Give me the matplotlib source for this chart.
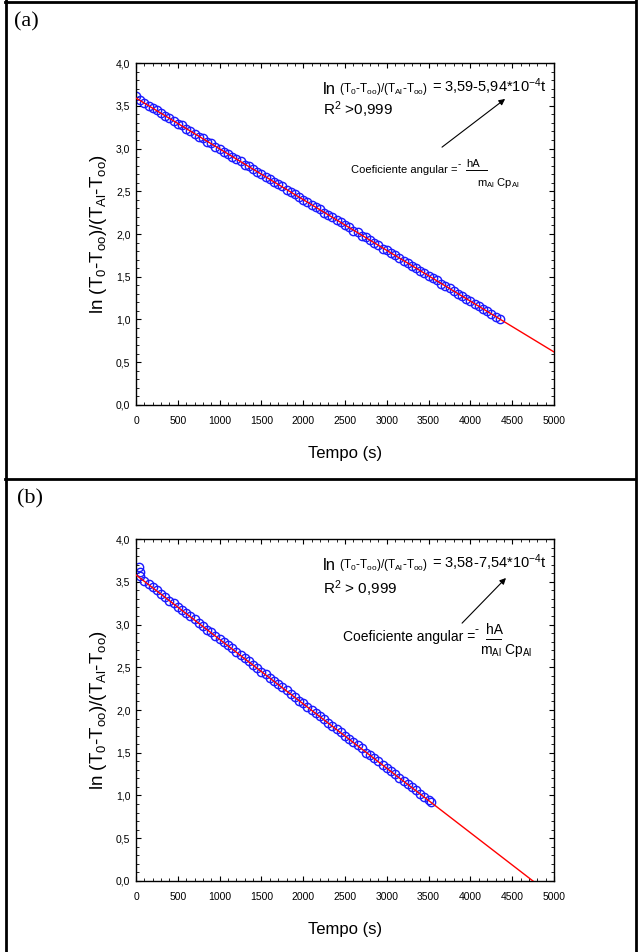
import numpy as np
import matplotlib

matplotlib.use("Agg")
import matplotlib.pyplot as plt
from matplotlib.lines import Line2D
from matplotlib.ticker import FuncFormatter, MultipleLocator

plt.rcParams["font.family"] = ["Liberation Sans", "DejaVu Sans"]
plt.rcParams["mathtext.default"] = "regular"

# panel (a): measured ln ratio vs time
T_A = np.arange(0, 4351, 50)
Y_A = [3.61, 3.57, 3.53, 3.50, 3.47, 3.45, 3.41, 3.38, 3.36, 3.32,
       3.29, 3.27, 3.23, 3.21, 3.17, 3.14, 3.12, 3.08, 3.06, 3.02,
       3.00, 2.96, 2.94, 2.90, 2.88, 2.85, 2.81, 2.79, 2.76, 2.73,
       2.70, 2.67, 2.64, 2.61, 2.58, 2.56, 2.52, 2.49, 2.47, 2.43,
       2.40, 2.38, 2.34, 2.31, 2.29, 2.25, 2.22, 2.20, 2.16, 2.14,
       2.10, 2.08, 2.04, 2.02, 1.98, 1.96, 1.93, 1.89, 1.87, 1.83,
       1.81, 1.78, 1.75, 1.72, 1.69, 1.66, 1.63, 1.60, 1.57, 1.54,
       1.51, 1.48, 1.46, 1.42, 1.39, 1.37, 1.33, 1.30, 1.28, 1.24,
       1.22, 1.18, 1.16, 1.12, 1.10, 1.07, 1.03, 1.00]
FIT_A = (3.59, -5.94e-4)

# panel (b)
T_B = [40, 45] + list(range(50, 3501, 50)) + [3530]
Y_B = [3.67, 3.62,
       3.57, 3.51, 3.47, 3.44, 3.40, 3.36, 3.32, 3.28, 3.25, 3.21,
       3.17, 3.13, 3.10, 3.06, 3.02, 2.98, 2.94, 2.91, 2.87, 2.83,
       2.79, 2.76, 2.72, 2.68, 2.64, 2.61, 2.57, 2.53, 2.49, 2.45,
       2.42, 2.38, 2.34, 2.30, 2.27, 2.23, 2.19, 2.15, 2.11, 2.08,
       2.03, 2.00, 1.96, 1.93, 1.89, 1.85, 1.81, 1.78, 1.74, 1.70,
       1.66, 1.63, 1.59, 1.55, 1.50, 1.47, 1.44, 1.40, 1.36, 1.32,
       1.29, 1.25, 1.21, 1.17, 1.14, 1.10, 1.06, 1.02, 0.98, 0.95,
       0.92]
FIT_B = (3.58, -7.54e-4)

X_TICKS = np.arange(0, 5001, 500)
Y_TICKS = np.arange(0, 4.01, 0.5)

YLABEL = "ln (T$_0$-T$_{oo}$)/(T$_{Al}$-T$_{oo}$)"
SMALL = " (T$_0$-T$_{oo}$)/(T$_{Al}$-T$_{oo}$)"

fig = plt.figure(figsize=(6.38, 9.52), dpi=100)


def panel(rect, t, y, fit, eq_rhs, r2, coef_fs, coef_xy, frac_xy, bar, arrow):
    ax = fig.add_axes(rect)
    ax.plot(t, y, "o", ms=6, mfc="none", mec="#1a1aff", mew=1.0, zorder=2)
    tf = np.array([0, 5000])
    ax.plot(tf, fit[0] + fit[1] * tf, color="red", lw=1.0, zorder=3)
    ax.set_xlim(0, 5000)
    ax.set_ylim(0, 4.0)
    ax.set_xticks(X_TICKS)
    ax.set_yticks(Y_TICKS)
    ax.xaxis.set_minor_locator(MultipleLocator(100))
    ax.yaxis.set_minor_locator(MultipleLocator(0.1))
    ax.yaxis.set_major_formatter(FuncFormatter(lambda v, p: f"{v:.1f}".replace(".", ",")))
    ax.tick_params(which="both", direction="in", top=True, right=True,
                   labelsize=7.5, colors="black")
    ax.tick_params(axis="x", pad=8)
    ax.tick_params(axis="y", pad=4)
    ax.tick_params(which="major", length=3.5, width=0.8)
    ax.tick_params(which="minor", length=2, width=0.6)
    for s in ax.spines.values():
        s.set_linewidth(1.0)
    ax.set_xlabel("Tempo (s)", fontsize=12, labelpad=14)
    ax.set_ylabel(YLABEL, fontsize=13.5, labelpad=5)

    # fitted equation
    t1 = ax.text(0.447, 0.90, "ln", fontsize=12, transform=ax.transAxes, va="bottom")
    t2 = ax.annotate(SMALL, xy=(1, 0), xycoords=t1, fontsize=8.5, va="bottom")
    ax.annotate(eq_rhs, xy=(1, 0), xycoords=t2, fontsize=10.5, va="bottom")
    ax.text(0.447, r2[1], r2[0], fontsize=11, transform=ax.transAxes, va="bottom")
    ax.annotate("", xy=arrow[1], xytext=arrow[0], xycoords="axes fraction",
                arrowprops=dict(arrowstyle="-|>", color="black", lw=0.8,
                                mutation_scale=9, shrinkA=0, shrinkB=0))

    # slope coefficient note
    c = ax.text(coef_xy[0], coef_xy[1], "Coeficiente angular =", fontsize=coef_fs,
                transform=ax.transAxes, ha="right", va="center")
    ax.annotate("- ", xy=(1, 0.6), xycoords=c, fontsize=coef_fs - 1, va="bottom")
    ax.text(frac_xy[0], frac_xy[1], "hA", fontsize=coef_fs,
            transform=ax.transAxes, va="bottom")
    ax.text(frac_xy[2], frac_xy[3], "m$_{Al}$ Cp$_{Al}$", fontsize=coef_fs,
            transform=ax.transAxes, va="center")
    ax.add_line(Line2D([bar[0], bar[1]], [bar[2], bar[2]], color="black", lw=0.7,
                       transform=ax.transAxes, clip_on=False))
    return ax


panel([0.2132, 0.5746, 0.6552, 0.3592], T_A, Y_A, FIT_A,
      " = 3,59-5,94*10$^{-4}$t", ("R$^2$ >0,999", 0.832),
      8, (0.770, 0.687), (0.790, 0.690, 0.816, 0.649), (0.789, 0.840, 0.688),
      ((0.732, 0.754), (0.883, 0.895)))

panel([0.2132, 0.0746, 0.6552, 0.3592], T_B, Y_B, FIT_B,
      " = 3,58-7,54*10$^{-4}$t", ("R$^2$ > 0,999", 0.826),
      10, (0.811, 0.713), (0.838, 0.713, 0.822, 0.674), (0.837, 0.873, 0.707),
      ((0.780, 0.754), (0.885, 0.886)))

# panel letters and table borders
fig.text(0.022, 0.987, "(a)", fontsize=16, family="Liberation Serif", va="top")
fig.text(0.026, 0.486, "(b)", fontsize=16, family="Liberation Serif", va="top")
for xs, ys in [([5.5 / 638, 5.5 / 638], [0, 1]),
               ([635.5 / 638, 635.5 / 638], [0, 1]),
               ([0.0086, 0.996], [1 - 1.5 / 952, 1 - 1.5 / 952]),
               ([0.0086, 0.996], [1 - 478.5 / 952, 1 - 478.5 / 952])]:
    fig.add_artist(Line2D(xs, ys, color="black", lw=2.0, transform=fig.transFigure))

fig.savefig("out.png", dpi=100)
